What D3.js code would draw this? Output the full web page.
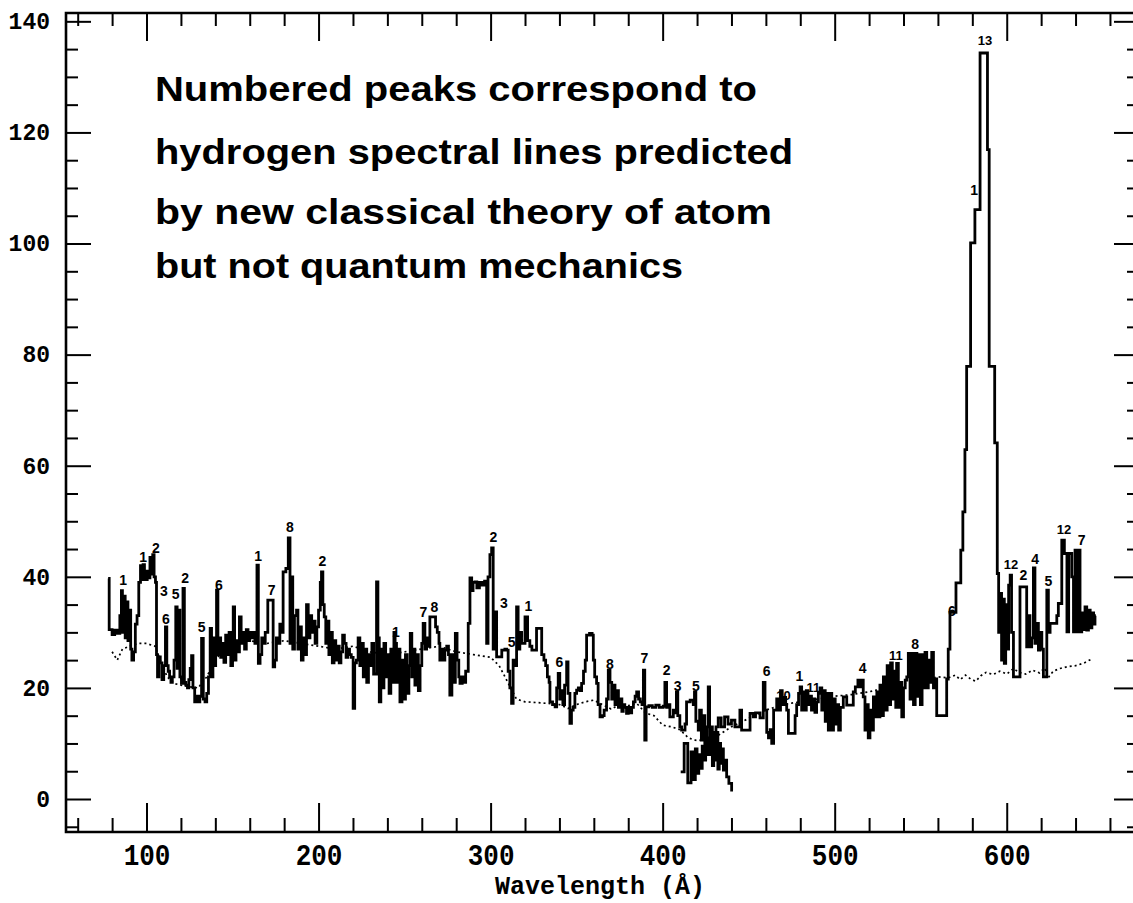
<!DOCTYPE html>
<html><head><meta charset="utf-8">
<script src="https://cdn.jsdelivr.net/npm/d3@7"></script>
<style>html,body{margin:0;padding:0;background:#fff;} svg{display:block;}</style>
</head><body>
<svg id="chart" width="1133" height="903"></svg>
<script>
// ---------- data ----------
const xMajorTicks = [100, 200, 300, 400, 500, 600];
const yMajorTicks = [0, 20, 40, 60, 80, 100, 120, 140];
const xTitle = "Wavelength (Å)";
const noteLines = [
  "Numbered peaks correspond to",
  "hydrogen spectral lines predicted",
  "by new classical theory of atom",
  "but not quantum mechanics"
];

// measured spectrum, first trace (wavelength Å, counts)
const spectrumA = [
[77.7,39.7],[78.3,30.5],[80,29.6],[81.5,30.4],[83,29.8],[84.5,33],[85.4,37.5],[86,30],[86.8,36.5],[87.6,29],[88.4,35.5],[89.2,28.5],[90,34],[90.8,27],[91.5,25],[92.5,26.5],[93.5,31.5],[94.5,33],[95.5,39],[96.5,42],[97.3,39.5],[98,42.2],[98.8,40],[99.6,39.5],[100.4,41],[101.2,39.8],[102,43.5],[102.8,40.5],[103.6,44],[104.4,40],[105.2,39],[105.8,26],[106.4,22],[107.2,25.6],[108,24.5],[109,21.5],[110,24],[111,31],[111.8,24],[112.6,23],[113.4,22],[114.2,21],[115,22],[116,25],[117,34.6],[117.8,23.5],[118.6,34],[119.4,22],[120.3,20.8],[121.2,37.9],[122,21],[122.8,20.5],[123.8,20],[124.6,21.5],[125.4,23.5],[126.2,25.8],[127,20],[128,17.5],[129,18.5],[130,17.5],[131,18.5],[132,28.9],[133,18],[134,17.5],[135,19],[136,22],[137,30.7],[137.8,22],[138.6,29],[139.4,24],[140.2,28],[140.7,37.6],[141.5,26],[142.3,29],[143.1,25.5],[144,28],[145,24.6],[146,29.5],[147,26],[148,30],[149,24],[150,27],[150.4,34.6],[151.2,25],[152,28.5],[153,26.5],[154,32.8],[155,28],[156,30],[157,27],[158,30.5],[159,28.5],[160,30],[161,29],[162,30],[163,28],[164.2,42.1],[165,24.4],[166,26],[167,29],[168,28],[169,30],[170.5,35.8],[172,35.8],[173.6,23.8],[174.5,25],[175.5,29],[176.5,28],[177.5,31.5],[178.5,30],[179.4,40.9],[181,41.5],[182.4,47],[183.4,28],[184.2,40],[185,27],[186,33],[187.2,34],[188,27],[189,31],[190,25],[191,29],[192,26],[193,35],[194,29],[195,33],[196,30],[197,32],[198,28],[199,31],[200,34],[201,39],[201.7,40.9],[202.5,35],[203.3,32.8],[204.2,28],[205,32],[206,26],[207,30],[208,24.5],[209,28.5],[210,25],[211,27.5],[212,24.5],[213,26.5],[214,29.5],[215,28],[216,25.5],[217,27],[218,26],[219,25.5],[220.1,16.3],[221,24.5],[222,25],[223,29],[224,24],[225,28],[226,22],[227,27],[228,21],[229,26],[230,24],[231,28],[232,22.5],[233.7,39.1],[234.5,29],[235.3,17.5],[236.2,27],[237,20],[238,28],[239,22],[240,26],[241,19],[242,27],[243,21],[243.8,30],
[244.5,28],[245.3,21],[246,27],[247.3,17.5],[248.5,25],[249.5,18],[250.5,26],[251.5,19],[252.5,24],[253.3,29.8],[254.2,22],[255,27],[256,20.5],[257,26],[258,19.5],[259,24],[260,28],[260.8,31.6],[261.8,27],[262.8,29],[263.6,27.5],[264.7,32.8],[267,32.8],[268,31],[269,30],[270,28],[270.5,25],[271.5,27],[272.5,25],[273.4,26.8],[274.5,27.5],[275.5,26],[276.3,18.7],[277.5,26],[278.5,21],[279.5,29.8],[280.5,25],[281.5,22],[282.2,20.8],[283.5,22],[284.5,21],[285.5,23],[287,31.6],[288,39.8],[289,37.5],[289.8,39],[290.9,39.1],[292,38],[293.5,39],[295,38.5],[296.5,39.2],[297.7,28],[298.5,40],[299.6,44],[300.6,45.2],[301.5,27],[302.5,33.7],[303.5,25.6],[305,25.6],[306.5,26.8],[308.3,27],[309.3,26.8],[310.2,23],[311.2,20],[312.2,17.2],[313.1,25],[314,24],[315.1,34.6],[316,27],[317,30],[318,28],[319,28],[320,32.8],[321.5,28.5],[322.8,27.5],[324,26.8],[325.5,26.8],[326.7,30.7],[328,30.7],[329.7,26],[331,25],[332,24],[333,22],[334,21],[334.5,17.5],[336,17],[337.5,16.6],[338.4,20],[339.3,22.6],[340.2,18],[341,19.5],[342,17],[343,20.5],[344.2,24.7],[345,19],[346.1,13.6],[347,16],[348,16.5],[349,19],[350,19.6],[351,20],[352,19.5],[352.9,20.8],[354,23],[355,25],[355.8,29.5],[357.5,29.8],[359,29.5],[359.7,25],[360.5,22],[361.6,20.8],[362.5,17],[363.6,14.8],[365,15],[366,16],[367.4,18],[368.4,23.2],[369.4,21],[370.4,18],[371.3,20.5],[372.3,17],[373.3,19.5],[374.3,16.5],[375.3,18],[376.3,15.8],[377.1,17],[378,16.5],[379,15.4],[380,16.5],[381,15.5],[382,16.5],[383,17.5],[384,18.5],[384.9,19.3],[386,18],[387,17.5],[388,17],[388.8,23.2],[389.6,10.6],[390.4,16.6],[392,16.8],[394,16.5],[396,16.9],[398,16.5],[400.3,16.7],[401.3,21],[402.3,16.5],[403.3,17],[404.2,14.8],[406.2,16],[407.2,15.5],[408,19.3],[408.8,15],[410,13],[411,12.4],[413,13.5],[413.9,17.5],[416,17.8],[417.8,17],[418.5,19.3],[419.3,14],[420.7,12.4],[421.5,16],[422.5,10.6],[423.5,15],[424.5,9],[425.6,13],[426.5,20.2],[427.3,8],[428.1,13],[428.9,6],[429.7,11.8],[430.5,7],[431.3,12],[432.1,5.4],[432.9,10],[433.7,6.4],[434.5,9],[435.3,5.2],[436.1,7],[437.2,4],[438.5,2.8],[440.1,1.6],[440.9,1.6]
];

// measured spectrum, second trace
const spectrumB = [
[410.5,4.9],[412.5,10],[414.6,2.9],[416.5,8.5],[417.5,3.5],[419,9],[420,4.6],[421,8],[422,5.5],[423,9.5],[424,7],[425,10.5],[426,8],[427,11],[428,8.5],[429,12],[430,9.5],[431,13],[432.3,14.6],[434,13],[436,14.8],[438,13.5],[440,14.2],[442,13],[444.9,16],[445.9,12.4],[450.8,15.4],[452.7,14.8],[454,15.5],[456.6,14.6],[458.5,21],[459.5,16],[460.5,12],[461.5,11],[462.5,12.5],[463.4,10],[464.5,16],[466.3,18],[467.5,16],[468.5,19.5],[469.5,17],[470.5,18.3],[471.5,17],[472.1,16],[473.1,11.8],[477,15],[477.9,17],[479,19],[479.9,20.2],[480.8,16],[481.7,19.3],[482.5,16],[483.5,19.5],[484.5,17],[485.5,18.5],[486.5,16],[487.5,18],[488.5,15.6],[489.5,17.5],[490.5,19],[491.5,20],[492.5,16],[493.5,19.5],[494.5,14],[495.5,19],[496.3,12.4],[497.3,19],[498.3,12.4],[499.3,18],[500.3,13.5],[501.3,17],[502.3,12.4],[503.3,16.5],[505,18.4],[507,16.9],[509,16.9],[510.8,19.3],[512,20.2],[513.5,21.4],[514.7,20.2],[515.5,21.4],[516.6,18.4],[517.6,12.4],[518.5,17],[519.5,11],[520.5,16],[521.5,12.4],[522.5,18.4],[523.5,14.8],[524.5,19.3],[525.5,14.8],[526.3,20.5],[527.3,15],[528.3,22],[529.3,16],[530.5,24],[531.5,17],[532.5,24.5],[533.5,18],[534.5,23],[535.5,16.5],[536,24.4],[537,16.5],[538,21],[539,14.8],[540,20],[541,21.4],[541.9,22],[542.8,26.2],[543.8,18],[544.8,26.2],[545.8,17],[546.8,26.2],[547.8,18.5],[548.8,26],[549.8,17],[550.8,26],[551.5,20],[552.5,26.4],[553.5,20],[554.4,25],[555.4,21],[556.4,26.4],[557.4,20],[558.3,21.6],[559.3,15],[565.1,21.6],[566,27],[567,33.6],[570.5,38.9],[573.3,44.8],[574.5,51.7],[575.7,62.9],[576.7,77.9],[579,100.1],[581.5,106.1],[584.5,134.3],[588.8,116.9],[589.8,77.9],[593,64.1],[594.5,40.6],[595.3,30],[596.1,37],[597,25],[597.8,36],[598.6,24.4],[599.4,35],[600.2,27],[601.1,38.5],[602,40.3],[602.8,30],[603.9,22],[607.7,38.2],[611.6,27.4],[612.5,33],[613.5,27.4],[614.5,29],[615.5,41.6],[616.4,28],[617.4,31.6],[618.4,26.8],[619.4,30],[620.4,27],[621.3,22],[623.3,37.6],[624.2,30],[625.2,31.6],[629.1,33],[630,35.2],[632,46.6],[633.5,44.2],[635,30.1],[636,44.2],[637.8,40],[638.8,30.1],[639.7,44.8],[640.5,30.1],[641.6,44.8],[642.6,30.1],[643.6,33.5],[644.5,30.5],[645.5,34.6],[646.5,30.4],[647.5,34],[648.5,30.8],[649.5,33.5],[650.5,31.5],[651.3,33],[651.8,33]
];

// dotted comparison curve
const backgroundCurve = [
[80,26.5],[83,25],[86,27],[90,27.5],[95,28],[100,28],[105,27.5],[108,25],[112,22],[116,20.8],[120,20.5],[125,20.2],[130,20],[135,22],[140,25],[145,27],[150,28],[160,28.5],[170,28],[180,28.5],[190,28],[200,27.5],[210,27],[220,27.5],[230,26.5],[240,26],[250,26.5],[260,27],[270,27.5],[280,26.5],[290,26],[300,25.5],[305,24],[310,21],[315,18],[320,17.5],[330,17.3],[340,17],[345,16.3],[350,17],[355,17.5],[360,17.8],[365,17],[370,16.2],[375,17],[380,16.8],[385,17.2],[390,15.5],[395,15],[400,13.3],[405,13],[410,12.5],[415,11],[420,10.5],[430,11],[440,13],[450,14.5],[460,16],[470,17],[480,17.5],[490,18],[500,18.5],[510,18.8],[520,19.3],[530,20],[540,20.8],[550,21.3],[560,22],[566,21.8],[570,22.3],[573,21.5],[576,22.3],[579,21.6],[582,21.2],[585,22.2],[588,22.8],[592,22.4],[596,23],[600,22.5],[604,23.5],[607,22.8],[611,22.5],[615,23.2],[619,22.7],[622,23.6],[624,21.8],[627,23],[631,23.5],[635,23.8],[640,24],[645,24.5],[650,25.3]
];

// peak numbers: [label, wavelength, value]
const peakLabels = [
["1",86.4,39.5],["1",98.1,43.5],["2",105.4,45.2],["3",110.1,37.4],["6",111.3,32.4],["5",117,36.9],["2",122.5,39.8],["5",132,30.9],["6",142,38.5],["1",164.9,43.8],["7",172.7,37.7],["8",183.4,48.9],["2",202.2,42.9],["1",245,30],["7",260.9,33.6],["8",267.3,34.5],["2",301.6,47.1],["3",307.8,35.2],["5",312.2,28.2],["1",321.9,34.8],["6",340,24.7],["8",369.4,24.3],["7",389.4,25.4],["2",402.3,23.2],["3",408.7,20.4],["5",419.4,20.4],["6",460.5,23.1],["10",470.2,18.6],["1",479.5,22.2],["11",487.6,20.1],["4",516.3,23.5],["11",535.6,25.8],["8",546.7,27.9],["6",568.1,33.8],["1",581,109.6],["13",587.4,136.6],["12",602.5,42.3],["2",609.7,40.3],["4",616.5,43.2],["5",624.2,39.3],["12",633.3,48.6],["7",643.6,46.7]
];

// ---------- layout ----------
const svg = d3.select("#chart");
const L = 66, R = 1138, T = 13, B = 832;
const x = d3.scaleLinear().domain([53.2, 676.3]).range([L, R]);
const y = d3.scaleLinear().domain([-5.94, 141.5]).range([B, T]);

const mono = "'Liberation Mono', 'DejaVu Sans Mono', monospace";
const sans = "'Liberation Sans', Arial, Helvetica, sans-serif";

const xMinor = d3.range(60, 680, 20).filter(v => v % 100 !== 0);
const yMinor = d3.range(-5, 142, 5).filter(v => v % 20 !== 0);

function styleAxis(g) {
  g.select(".domain").remove();
  g.selectAll(".tick line").attr("stroke", "#000").attr("stroke-width", 2);
}

// bottom
svg.append("g").attr("transform", `translate(0,${B})`)
  .call(d3.axisBottom(x).tickValues(xMinor).tickSize(-14).tickFormat(""))
  .call(styleAxis);
const gxb = svg.append("g").attr("transform", `translate(0,${B})`)
  .call(d3.axisBottom(x).tickValues(xMajorTicks).tickSize(-29).tickPadding(0).tickFormat(d3.format("d")))
  .call(styleAxis);
gxb.selectAll(".tick text")
  .attr("dy", null).attr("y", 29).attr("transform", "scale(1,1.15)")
  .attr("fill", "#000").style("font-family", mono).style("font-weight", "bold").style("font-size", "26px");

// top
svg.append("g").attr("transform", `translate(0,${T})`)
  .call(d3.axisTop(x).tickValues(xMinor).tickSize(-13).tickFormat(""))
  .call(styleAxis);
svg.append("g").attr("transform", `translate(0,${T})`)
  .call(d3.axisTop(x).tickValues(xMajorTicks).tickSize(-28).tickFormat(""))
  .call(styleAxis);

// left
svg.append("g").attr("transform", `translate(${L},0)`)
  .call(d3.axisLeft(y).tickValues(yMinor).tickSize(-12).tickFormat(""))
  .call(styleAxis);
const gyl = svg.append("g").attr("transform", `translate(${L},0)`)
  .call(d3.axisLeft(y).tickValues(yMajorTicks).tickSize(-25).tickPadding(16).tickFormat(d3.format("d")))
  .call(styleAxis);
gyl.selectAll(".tick text")
  .attr("fill", "#000").style("font-family", mono).style("font-weight", "bold").style("font-size", "23px");

// right
svg.append("g").attr("transform", `translate(${R},0)`)
  .call(d3.axisRight(y).tickValues(yMinor).tickSize(-11).tickFormat(""))
  .call(styleAxis);
svg.append("g").attr("transform", `translate(${R},0)`)
  .call(d3.axisRight(y).tickValues(yMajorTicks).tickSize(-24).tickFormat(""))
  .call(styleAxis);

// frame
svg.append("path")
  .attr("d", `M${L},${T}H${R}V${B}H${L}Z`)
  .attr("fill", "none").attr("stroke", "#000").attr("stroke-width", 2.6);

// axis title
svg.append("text").attr("x", 600).attr("y", 894).attr("text-anchor", "middle")
  .style("font-family", mono).style("font-weight", "bold").style("font-size", "25px")
  .text(xTitle);

// note text
const noteBase = [101, 164, 224, 278];
const noteWidth = [602, 638, 617, 528];
svg.append("g").selectAll("text").data(noteLines).join("text")
  .attr("x", 155).attr("y", (d, i) => noteBase[i])
  .attr("textLength", (d, i) => noteWidth[i]).attr("lengthAdjust", "spacingAndGlyphs")
  .style("font-family", sans).style("font-weight", "bold").style("font-size", "35px")
  .text(d => d);

// curves
const stepLine = d3.line().x(d => x(d[0])).y(d => y(d[1])).curve(d3.curveStepAfter);
const plainLine = d3.line().x(d => x(d[0])).y(d => y(d[1]));

svg.append("path").datum(backgroundCurve).attr("d", plainLine)
  .attr("fill", "none").attr("stroke", "#000").attr("stroke-width", 1.7)
  .attr("stroke-dasharray", "2,3");

[spectrumA, spectrumB].forEach(s => {
  svg.append("path").datum(s).attr("d", stepLine)
    .attr("fill", "none").attr("stroke", "#000").attr("stroke-width", 2.8)
    .attr("stroke-linejoin", "miter");
});

// peak numbers
svg.append("g").selectAll("text").data(peakLabels).join("text")
  .attr("x", d => x(d[1])).attr("y", d => y(d[2]))
  .attr("text-anchor", "middle").attr("dominant-baseline", "central")
  .style("font-family", sans).style("font-weight", "bold")
  .style("font-size", d => d[0].length > 1 ? "13px" : "14px")
  .text(d => d[0]);
</script>
</body></html>
